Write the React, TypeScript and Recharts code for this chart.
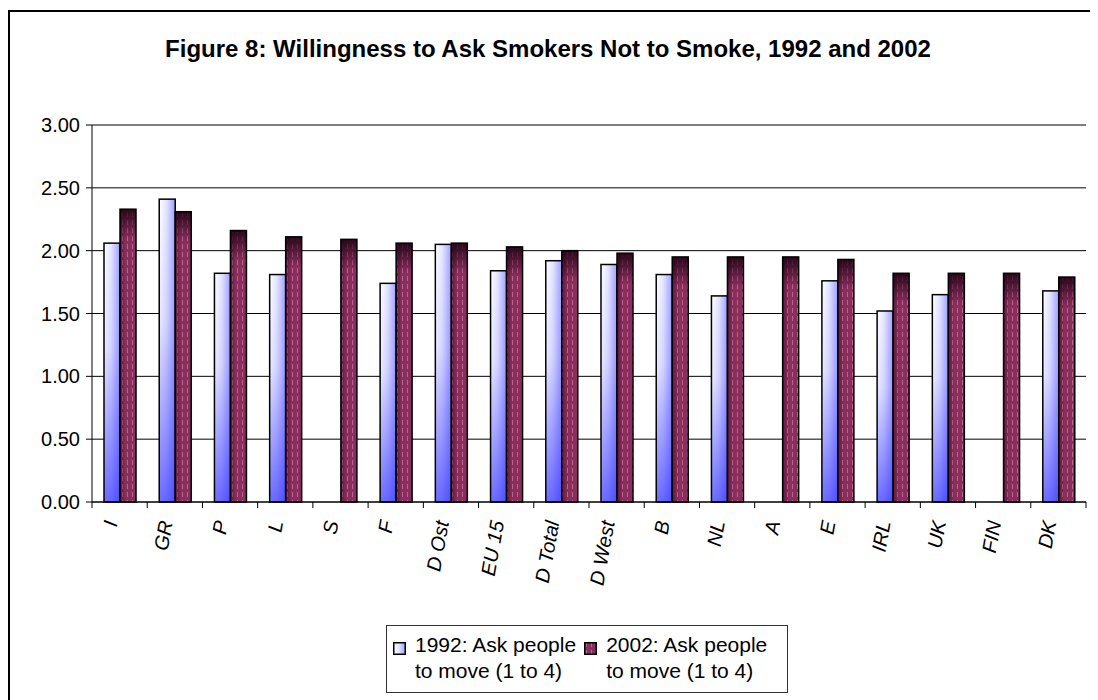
import { BarChart, Bar, XAxis, YAxis, CartesianGrid, Legend } from "recharts";

// Willingness to ask smokers not to smoke (scale 1 to 4)
const countries = [
  "I", "GR", "P", "L", "S", "F", "D Ost", "EU 15", "D Total",
  "D West", "B", "NL", "A", "E", "IRL", "UK", "FIN", "DK",
];
const values1992: (number | null)[] = [
  2.06, 2.41, 1.82, 1.81, null, 1.74, 2.05, 1.84, 1.92,
  1.89, 1.81, 1.64, null, 1.76, 1.52, 1.65, null, 1.68,
];
const values2002: number[] = [
  2.33, 2.31, 2.16, 2.11, 2.09, 2.06, 2.06, 2.03, 2.0,
  1.98, 1.95, 1.95, 1.95, 1.93, 1.82, 1.82, 1.82, 1.79,
];
const yTicks = [0, 0.5, 1, 1.5, 2, 2.5, 3];

const label1992 = ["1992: Ask people", "to move (1 to 4)"];
const label2002 = ["2002: Ask people", "to move (1 to 4)"];

const chartData = countries.map((c, i) => ({
  country: c,
  v1992: values1992[i],
  v2002: values2002[i],
}));

const FONT = "'Liberation Sans', Arial, sans-serif";

// eslint-disable-next-line @typescript-eslint/no-explicit-any
const Bar1992 = (props: any) => {
  const { x, y, width, height } = props;
  if (!height || height <= 0) return null;
  return (
    <g>
      <rect x={x} y={y} width={width} height={height} fill="url(#g92)" />
      <rect x={x} y={y} width={width} height={height} fill="url(#g92v)" />
      <rect x={x} y={y} width={width} height={height} fill="none" stroke="#000" strokeWidth={1.5} />
    </g>
  );
};

// eslint-disable-next-line @typescript-eslint/no-explicit-any
const Bar2002 = (props: any) => {
  const { x, y, width, height } = props;
  if (!height || height <= 0) return null;
  return (
    <g>
      <rect x={x} y={y} width={width} height={height} fill="url(#p02)" />
      <rect x={x} y={y} width={width} height={Math.min(30, height)} fill="url(#g02top)" />
      <rect x={x} y={y} width={width} height={height} fill="url(#g02side)" />
      <rect x={x} y={y} width={width} height={height} fill="none" stroke="#000" strokeWidth={1.5} />
    </g>
  );
};

// eslint-disable-next-line @typescript-eslint/no-explicit-any
const CategoryTick = (props: any) => {
  const { x, y, payload, index, visibleTicksCount } = props;
  const half = payload.offset ?? 27.6;
  return (
    <g>
      <line x1={x - half} y1={y} x2={x - half} y2={y + 6} stroke="#000" />
      {index === visibleTicksCount - 1 && (
        <line x1={x + half} y1={y} x2={x + half} y2={y + 6} stroke="#000" />
      )}
      <text
        transform={`translate(${x - 2},${y + 20}) rotate(-80)`}
        textAnchor="end"
        fontFamily={FONT}
        fontStyle="italic"
        fontSize={20}
        fill="#000"
      >
        {payload.value}
      </text>
    </g>
  );
};

const LegendBox = () => (
  <div
    style={{
      boxSizing: "border-box",
      width: 402,
      height: 68,
      border: "1px solid #333",
      background: "#fff",
      display: "flex",
      fontFamily: FONT,
      fontSize: 21,
      lineHeight: "26px",
      color: "#000",
      paddingTop: 6,
    }}
  >
    {[
      { lines: label1992, fill: "url(#g92)" },
      { lines: label2002, fill: "url(#p02)" },
    ].map((item, i) => (
      <div key={i} style={{ display: "flex", marginLeft: i === 0 ? 6 : 8 }}>
        <svg width={13} height={13} style={{ marginTop: 10, marginRight: 9 }}>
          <rect x={0.75} y={0.75} width={11.5} height={11.5} fill={item.fill} stroke="#000" strokeWidth={1.5} />
        </svg>
        <div>
          {item.lines.map((l) => (
            <div key={l} style={{ whiteSpace: "nowrap" }}>{l}</div>
          ))}
        </div>
      </div>
    ))}
  </div>
);

export default function App() {
  return (
    <div
      style={{
        position: "relative",
        width: 1090,
        height: 692,
        marginTop: 2,
        border: "2px solid #000",
        background: "#fff",
        fontFamily: FONT,
      }}
    >
      <div
        style={{
          position: "absolute",
          top: 25,
          left: 0,
          width: 1076,
          textAlign: "center",
          fontWeight: "bold",
          fontSize: 24,
          lineHeight: 1,
          whiteSpace: "nowrap",
        }}
      >
        Figure 8: Willingness to Ask Smokers Not to Smoke, 1992 and 2002
      </div>
      <BarChart
        width={1090}
        height={690}
        data={chartData}
        margin={{ top: 113, right: 14, left: 0, bottom: 9 }}
        barGap={0}
        barSize={16}
      >
        <defs>
          <linearGradient id="g92" x1="0" y1="0" x2="1" y2="0">
            <stop offset="0" stopColor="#ffffff" />
            <stop offset="0.45" stopColor="#e4e4ff" />
            <stop offset="1" stopColor="#a0a0ff" />
          </linearGradient>
          <linearGradient id="g92v" x1="0" y1="0" x2="0" y2="1">
            <stop offset="0" stopColor="#3030ff" stopOpacity={0} />
            <stop offset="0.4" stopColor="#3030ff" stopOpacity={0.1} />
            <stop offset="1" stopColor="#2020ff" stopOpacity={0.65} />
          </linearGradient>
          <pattern id="p02" width={5} height={8} patternUnits="userSpaceOnUse">
            <rect width={5} height={8} fill="#8a2e5c" />
            <line x1={2.5} y1={0} x2={2.5} y2={5} stroke="#b8648f" strokeWidth={1} />
          </pattern>
          <linearGradient id="g02top" x1="0" y1="0" x2="0" y2="1">
            <stop offset="0" stopColor="#1a0010" stopOpacity={0.85} />
            <stop offset="1" stopColor="#1a0010" stopOpacity={0} />
          </linearGradient>
          <linearGradient id="g02side" x1="0" y1="0" x2="1" y2="0">
            <stop offset="0" stopColor="#200010" stopOpacity={0.45} />
            <stop offset="0.35" stopColor="#200010" stopOpacity={0} />
            <stop offset="1" stopColor="#200010" stopOpacity={0} />
          </linearGradient>
        </defs>
        <CartesianGrid vertical={false} stroke="#000" />
        <XAxis
          dataKey="country"
          interval={0}
          height={123}
          tickLine={false}
          tickSize={0}
          tickMargin={0}
          axisLine={{ stroke: "#000" }}
          tick={<CategoryTick />}
        />
        <YAxis
          domain={[0, 3]}
          ticks={yTicks}
          width={82}
          tickFormatter={(v: number) => v.toFixed(2)}
          axisLine={{ stroke: "#000" }}
          tickLine={{ stroke: "#000" }}
          tickSize={6}
          tickMargin={6}
          tick={{ fill: "#000", fontSize: 20, fontFamily: FONT }}
        />
        <YAxis
          yAxisId="right"
          orientation="right"
          domain={[0, 3]}
          width={0}
          tick={false}
          tickLine={false}
          axisLine={{ stroke: "#808080" }}
        />
        <Legend
          verticalAlign="bottom"
          wrapperStyle={{ left: 376, width: 402 }}
          content={<LegendBox />}
        />
        <Bar dataKey="v1992" shape={<Bar1992 />} isAnimationActive={false} />
        <Bar dataKey="v2002" shape={<Bar2002 />} isAnimationActive={false} />
      </BarChart>
    </div>
  );
}
